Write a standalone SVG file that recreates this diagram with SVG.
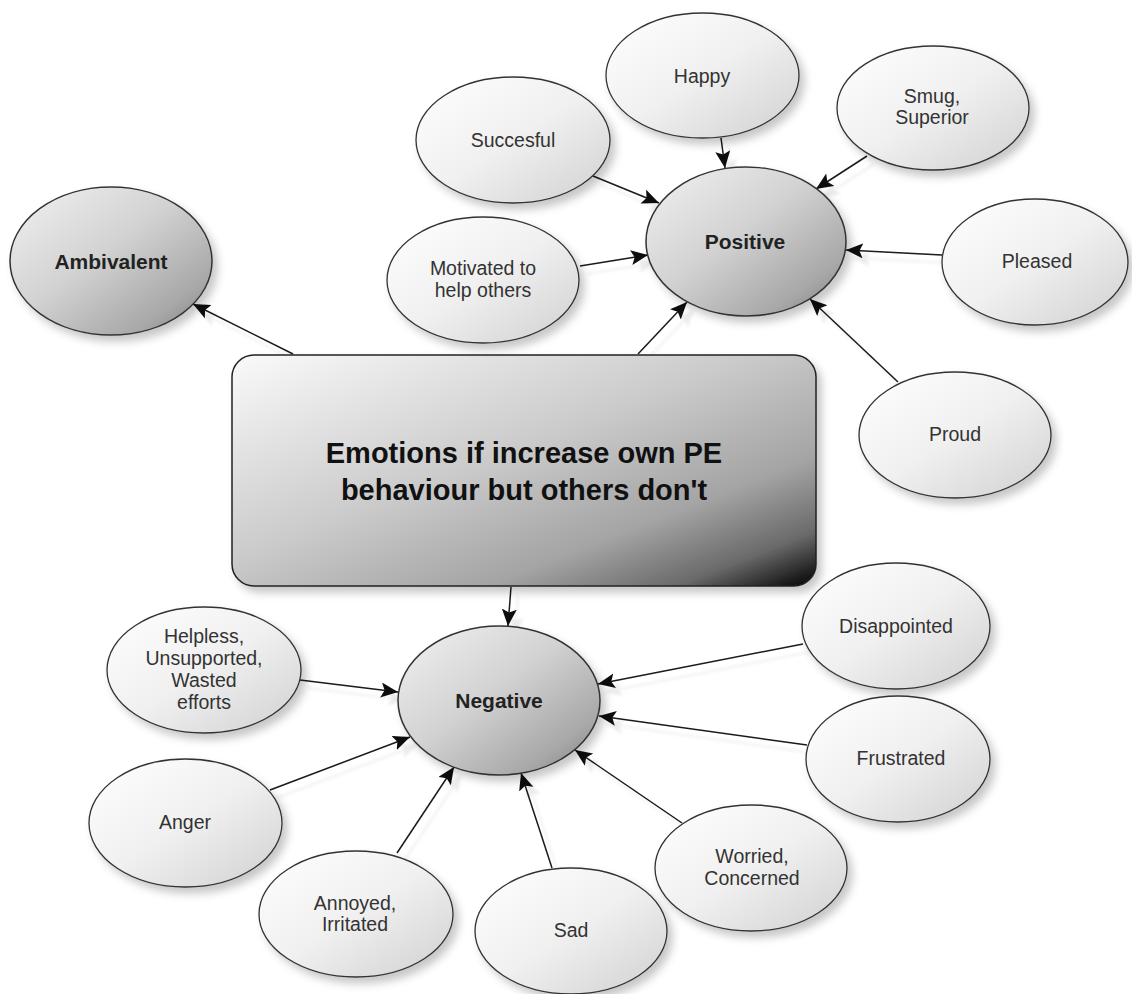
<svg xmlns="http://www.w3.org/2000/svg" width="1132" height="994" viewBox="0 0 1132 994">
  <defs>
    <linearGradient id="gradLeaf" x1="0" y1="0" x2="1" y2="1">
      <stop offset="0" stop-color="#ffffff"/>
      <stop offset="0.5" stop-color="#f0f0f0"/>
      <stop offset="1" stop-color="#d0d0d0"/>
    </linearGradient>
    <linearGradient id="gradHub" x1="0" y1="0" x2="1" y2="1">
      <stop offset="0" stop-color="#f2f2f2"/>
      <stop offset="0.45" stop-color="#d2d2d2"/>
      <stop offset="0.8" stop-color="#a8a8a8"/>
      <stop offset="1" stop-color="#7a7a7a"/>
    </linearGradient>
    <linearGradient id="gradCore" x1="0" y1="0" x2="1" y2="1">
      <stop offset="0" stop-color="#fafafa"/>
      <stop offset="0.45" stop-color="#cacaca"/>
      <stop offset="0.72" stop-color="#a4a4a4"/>
      <stop offset="0.88" stop-color="#6a6a6a"/>
      <stop offset="1" stop-color="#000000"/>
    </linearGradient>
    <filter id="shadow" x="-20%" y="-20%" width="150%" height="150%">
      <feDropShadow dx="5" dy="6" stdDeviation="4" flood-color="#000" flood-opacity="0.22"/>
    </filter>
    <filter id="lineShadow" x="-20%" y="-20%" width="150%" height="150%">
      <feDropShadow dx="7" dy="8" stdDeviation="1.5" flood-color="#000" flood-opacity="0.08"/>
    </filter>
    <marker id="arrow" markerUnits="userSpaceOnUse" markerWidth="19" markerHeight="16" refX="17" refY="7.5" orient="auto">
      <path d="M0,0 L17,7.5 L0,15 L3.5,7.5 z" fill="#111"/>
    </marker>
    <style>
      .leaf { fill: url(#gradLeaf); stroke: #333; stroke-width: 1.3; filter: url(#shadow); }
      .hub { fill: url(#gradHub); stroke: #333; stroke-width: 1.5; filter: url(#shadow); }
      .core { fill: url(#gradCore); stroke: #222; stroke-width: 1.5; filter: url(#shadow); }
      .edge { stroke: #1a1a1a; stroke-width: 1.5; fill: none; marker-end: url(#arrow); }
      .t { font-family: "Liberation Sans", Arial, sans-serif; font-size: 19.5px; fill: #333; text-anchor: middle; }
      .tb { font-family: "Liberation Sans", Arial, sans-serif; font-size: 21px; font-weight: bold; fill: #222; text-anchor: middle; }
      .tc { font-family: "Liberation Sans", Arial, sans-serif; font-size: 29px; font-weight: bold; fill: #111; text-anchor: middle; }
    </style>
  </defs>

  <rect width="1132" height="994" fill="#ffffff"/>

  <!-- arrows: every leaf points at its category, the core points at the three categories -->
  <g id="connectors" filter="url(#lineShadow)">
    <line class="edge" x1="293" y1="354" x2="193" y2="304"/>
    <line class="edge" x1="638" y1="354" x2="687" y2="302"/>
    <line class="edge" x1="511" y1="587" x2="508" y2="626"/>
    <line class="edge" x1="593" y1="176" x2="659" y2="203"/>
    <line class="edge" x1="721" y1="138" x2="725" y2="168"/>
    <line class="edge" x1="867" y1="156" x2="816" y2="189"/>
    <line class="edge" x1="942" y1="255" x2="846" y2="250"/>
    <line class="edge" x1="580" y1="266" x2="648" y2="255"/>
    <line class="edge" x1="898" y1="382" x2="810" y2="299"/>
    <line class="edge" x1="803" y1="644" x2="598" y2="684"/>
    <line class="edge" x1="807" y1="745" x2="599" y2="716"/>
    <line class="edge" x1="682" y1="823" x2="575" y2="750"/>
    <line class="edge" x1="552" y1="868" x2="521" y2="773"/>
    <line class="edge" x1="397" y1="853" x2="454" y2="767"/>
    <line class="edge" x1="270" y1="790" x2="410" y2="737"/>
    <line class="edge" x1="300" y1="680" x2="398" y2="692"/>
  </g>

  <!-- central topic -->
  <g id="core">
    <rect class="core" x="232" y="355" width="584" height="231" rx="22" ry="22"/>
    <text class="tc" x="524" y="463">Emotions if increase own PE</text>
    <text class="tc" x="524" y="500">behaviour but others don't</text>
  </g>

  <!-- categories -->
  <g id="ambivalent">
    <ellipse class="hub" cx="111" cy="261" rx="101" ry="74"/>
    <text class="tb" x="111" y="269">Ambivalent</text>
  </g>
  <g id="positive">
    <ellipse class="hub" cx="746" cy="241.5" rx="100" ry="74.5"/>
    <text class="tb" x="745" y="249">Positive</text>
  </g>
  <g id="negative">
    <ellipse class="hub" cx="499" cy="700.5" rx="101" ry="74.5"/>
    <text class="tb" x="499" y="708">Negative</text>
  </g>

  <!-- positive emotions -->
  <g id="happy">
    <ellipse class="leaf" cx="702.5" cy="75.5" rx="96.5" ry="62.5"/>
    <text class="t" x="702" y="83">Happy</text>
  </g>
  <g id="succesful">
    <ellipse class="leaf" cx="513" cy="140" rx="97" ry="63"/>
    <text class="t" x="513" y="147">Succesful</text>
  </g>
  <g id="smug">
    <ellipse class="leaf" cx="933" cy="108" rx="96" ry="62"/>
    <text class="t" x="932" y="103">Smug,</text>
    <text class="t" x="932" y="124">Superior</text>
  </g>
  <g id="pleased">
    <ellipse class="leaf" cx="1035" cy="262" rx="93" ry="63"/>
    <text class="t" x="1037" y="268">Pleased</text>
  </g>
  <g id="motivated">
    <ellipse class="leaf" cx="483" cy="280" rx="96" ry="63"/>
    <text class="t" x="483" y="275">Motivated to</text>
    <text class="t" x="483" y="297">help others</text>
  </g>
  <g id="proud">
    <ellipse class="leaf" cx="955" cy="435" rx="96" ry="63"/>
    <text class="t" x="955" y="441">Proud</text>
  </g>

  <!-- negative emotions -->
  <g id="disappointed">
    <ellipse class="leaf" cx="896" cy="626" rx="94" ry="63"/>
    <text class="t" x="896" y="633">Disappointed</text>
  </g>
  <g id="frustrated">
    <ellipse class="leaf" cx="898" cy="759" rx="92" ry="63"/>
    <text class="t" x="901" y="765">Frustrated</text>
  </g>
  <g id="worried">
    <ellipse class="leaf" cx="751" cy="868" rx="96" ry="63"/>
    <text class="t" x="752" y="863">Worried,</text>
    <text class="t" x="752" y="885">Concerned</text>
  </g>
  <g id="sad">
    <ellipse class="leaf" cx="571" cy="931" rx="96" ry="63"/>
    <text class="t" x="571" y="937">Sad</text>
  </g>
  <g id="annoyed">
    <ellipse class="leaf" cx="356" cy="914" rx="97" ry="63"/>
    <text class="t" x="355" y="910">Annoyed,</text>
    <text class="t" x="355" y="931">Irritated</text>
  </g>
  <g id="anger">
    <ellipse class="leaf" cx="185.5" cy="823" rx="96.5" ry="64"/>
    <text class="t" x="185" y="829">Anger</text>
  </g>
  <g id="helpless">
    <ellipse class="leaf" cx="204" cy="670" rx="97" ry="63"/>
    <text class="t" x="204" y="643">Helpless,</text>
    <text class="t" x="204" y="665">Unsupported,</text>
    <text class="t" x="204" y="687">Wasted</text>
    <text class="t" x="204" y="709">efforts</text>
  </g>
</svg>
